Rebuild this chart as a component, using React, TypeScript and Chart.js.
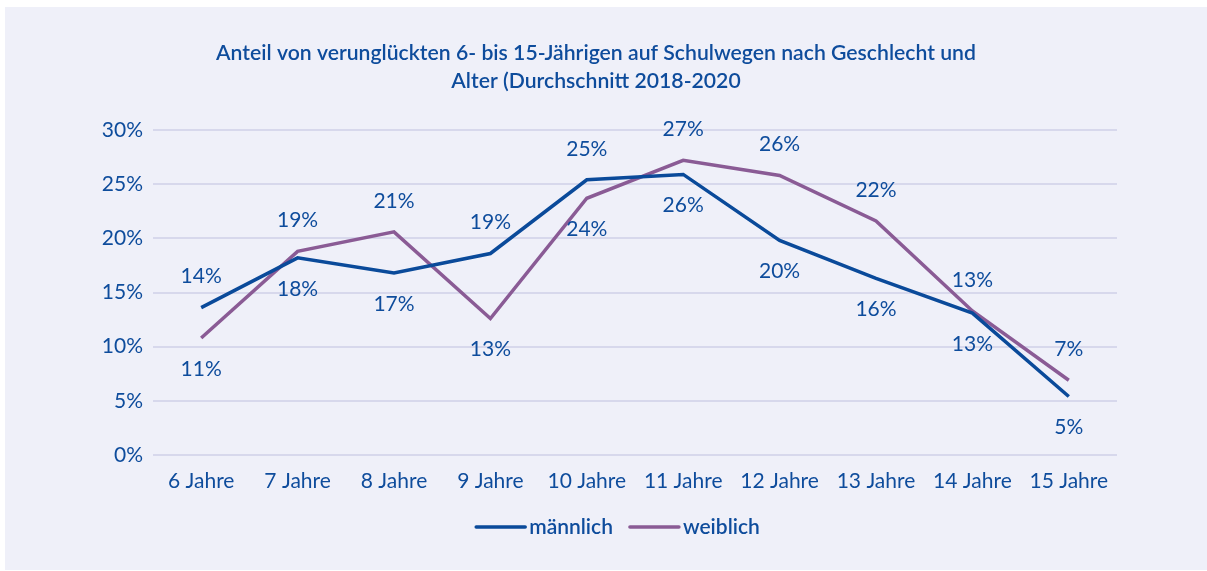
import React, { useEffect, useRef } from "react";
import { Chart, registerables } from "chart.js";

Chart.register(...registerables);

const titleLines = [
  "Anteil von verunglückten 6- bis 15-Jährigen auf Schulwegen nach Geschlecht und",
  "Alter (Durchschnitt 2018-2020",
];
const categories = [
  "6 Jahre", "7 Jahre", "8 Jahre", "9 Jahre", "10 Jahre",
  "11 Jahre", "12 Jahre", "13 Jahre", "14 Jahre", "15 Jahre",
];
const maleValues = [13.6, 18.2, 16.8, 18.6, 25.4, 25.9, 19.8, 16.3, 13.1, 5.4];
const femaleValues = [10.8, 18.8, 20.6, 12.6, 23.7, 27.2, 25.8, 21.6, 13.3, 6.9];
const seriesNames = ["männlich", "weiblich"];
const yTicks = [0, 5, 10, 15, 20, 25, 30];

const BLUE_TEXT = "#0E4C9C";
const BLUE_LINE = "#0A4A9A";
const PURPLE_LINE = "#8A5B95";
const GRID = "#D7D8EC";
const BG = "#EFF0F9";
const FONT = "Lato";

const W = 1202;
const H = 563;

const overlayPlugin = {
  id: "overlay",
  afterDatasetsDraw(chart: any) {
    const ctx = chart.ctx;
    ctx.save();
    // data labels: higher value above, lower below
    const metas = chart.data.datasets.map((_: any, i: number) => chart.getDatasetMeta(i));
    ctx.font = `21px ${FONT}`;
    ctx.fillStyle = BLUE_TEXT;
    ctx.textAlign = "center";
    ctx.textBaseline = "middle";
    const n = categories.length;
    for (let j = 0; j < n; j++) {
      const vals = chart.data.datasets.map((d: any) => d.data[j] as number);
      chart.data.datasets.forEach((d: any, i: number) => {
        const pt = metas[i].data[j];
        const v = vals[i];
        const other = vals[1 - i];
        const above = v >= other;
        const y = above ? pt.y - 31 : pt.y + 31;
        ctx.fillText(Math.round(v) + "%", pt.x, y);
      });
    }
    ctx.restore();
  },
  afterDraw(chart: any) {
    const ctx = chart.ctx;
    ctx.save();
    // title
    ctx.font = `600 21.2px ${FONT}`;
    ctx.fillStyle = BLUE_TEXT;
    ctx.textAlign = "center";
    ctx.textBaseline = "middle";
    titleLines.forEach((t, i) => ctx.fillText(t, 591, 46 + i * 28));
    // legend
    ctx.font = `600 21px ${FONT}`;
    const lineLen = 49;
    const gapText = 4;
    const gapItem = 17;
    const items = chart.data.datasets.map((d: any) => ({
      label: d.label,
      color: d.borderColor,
      w: ctx.measureText(d.label).width,
    }));
    const total = items.reduce((s: number, it: any) => s + lineLen + gapText + it.w, 0) + gapItem * (items.length - 1);
    let x = 613 - total / 2;
    const y = 520;
    ctx.textAlign = "left";
    items.forEach((it: any) => {
      ctx.strokeStyle = it.color;
      ctx.lineWidth = 3.5;
      ctx.lineCap = "round";
      ctx.beginPath();
      ctx.moveTo(x, y);
      ctx.lineTo(x + lineLen, y);
      ctx.stroke();
      x += lineLen + gapText;
      ctx.fillStyle = BLUE_TEXT;
      ctx.fillText(it.label, x, y);
      x += it.w + gapItem;
    });
    ctx.restore();
  },
};

export default function App() {
  const ref = useRef<HTMLCanvasElement>(null);
  useEffect(() => {
    if (!ref.current) return;
    const chart = new Chart(ref.current, {
      type: "line",
      data: {
        labels: categories,
        datasets: [
          {
            label: seriesNames[0],
            data: maleValues,
            borderColor: BLUE_LINE,
            backgroundColor: BLUE_LINE,
            borderWidth: 3.5,
            pointRadius: 0,
            tension: 0,
          },
          {
            label: seriesNames[1],
            data: femaleValues,
            borderColor: PURPLE_LINE,
            backgroundColor: PURPLE_LINE,
            borderWidth: 3.5,
            pointRadius: 0,
            tension: 0,
          },
        ],
      },
      options: {
        responsive: false,
        animation: false,
        devicePixelRatio: 1,
        layout: { padding: { left: 0, right: 90, top: 123, bottom: 75 } },
        plugins: {
          legend: { display: false },
          title: { display: false },
          tooltip: { enabled: false },
        },
        scales: {
          x: {
            offset: true,
            grid: { display: false, drawTicks: false },
            border: { display: false },
            ticks: {
              color: BLUE_TEXT,
              font: { family: FONT, size: 21 },
              padding: 14,
              maxRotation: 0,
              autoSkip: false,
            },
            afterFit(scale: any) {
              scale.height = 40;
            },
          },
          y: {
            min: yTicks[0],
            max: yTicks[yTicks.length - 1],
            afterBuildTicks(scale: any) {
              scale.ticks = yTicks.map((v) => ({ value: v }));
            },
            grid: { color: GRID, lineWidth: 2, drawTicks: false },
            border: { display: false },
            ticks: {
              color: BLUE_TEXT,
              font: { family: FONT, size: 21 },
              padding: 10,
              callback: (v: any) => v + "%",
            },
            afterFit(scale: any) {
              scale.width = 148;
            },
          },
        },
      },
      plugins: [overlayPlugin],
    });
    return () => chart.destroy();
  }, []);

  return (
    <div style={{ position: "fixed", left: 0, top: 0, width: 1207, height: 571, background: "#fff" }}>
      <div style={{ position: "absolute", left: 5, top: 7, width: W, height: H, background: BG }}>
        <canvas ref={ref} width={W} height={H} style={{ display: "block" }} />
      </div>
    </div>
  );
}
